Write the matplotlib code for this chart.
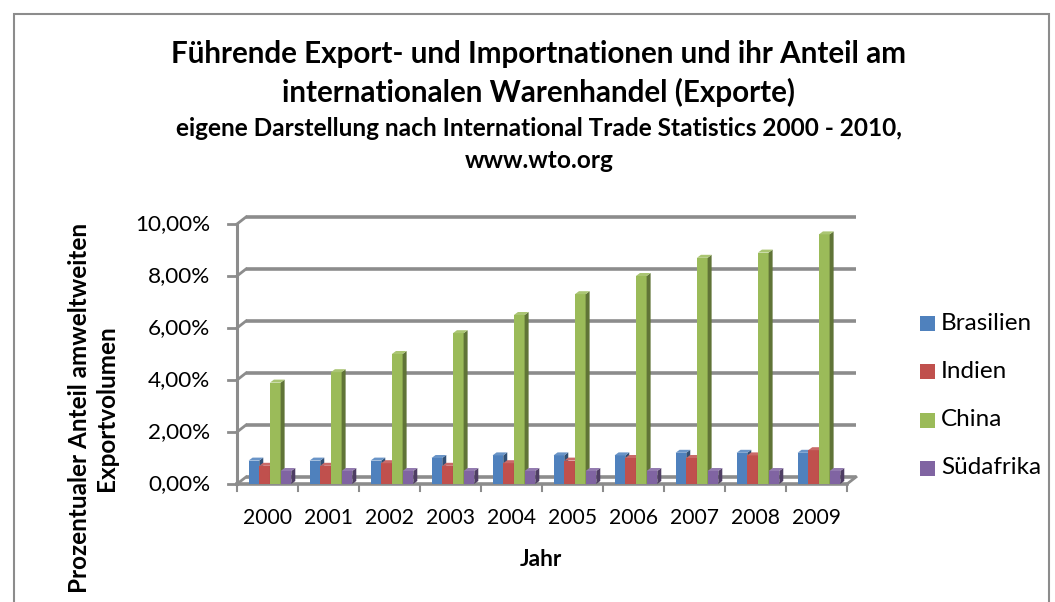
import matplotlib
matplotlib.use("Agg")
import matplotlib.pyplot as plt
from matplotlib.patches import Polygon, Rectangle
from matplotlib.colors import to_rgb

plt.rcParams['font.family'] = ['Lato', 'DejaVu Sans']

years = ['2000', '2001', '2002', '2003', '2004', '2005', '2006', '2007', '2008', '2009']
brasilien = [0.9, 0.9, 0.9, 1.0, 1.1, 1.1, 1.1, 1.2, 1.2, 1.2]
indien = [0.7, 0.7, 0.8, 0.7, 0.8, 0.9, 1.0, 1.0, 1.1, 1.3]
china = [3.9, 4.3, 5.0, 5.8, 6.5, 7.3, 8.0, 8.7, 8.9, 9.6]
suedafrika = [0.5, 0.5, 0.5, 0.5, 0.5, 0.5, 0.5, 0.5, 0.5, 0.5]
series_names = ['Brasilien', 'Indien', 'China', 'Südafrika']
series_values = [brasilien, indien, china, suedafrika]
colors = ['#4F81BD', '#C0504D', '#9BBB59', '#8064A2']
y_ticks = [0, 2, 4, 6, 8, 10]
y_tick_labels = ['0,00%', '2,00%', '4,00%', '6,00%', '8,00%', '10,00%']

W, H = 1055, 602
fig = plt.figure(figsize=(W / 100, H / 100), dpi=100)


def fx(px):
    return px / W


def fy(py):
    return 1 - py / H


# outer chart frame
fig.patches.append(Rectangle((fx(14), fy(640)), fx(1049) - fx(14), fy(14) - fy(640),
                             transform=fig.transFigure, fill=False,
                             edgecolor='#8c8c8c', linewidth=1.5))

# axes: front plane of the 3D plot
ax = fig.add_axes([fx(237), fy(484), fx(847) - fx(237), fy(224) - fy(484)])
ax.set_xlim(-0.5, 9.5)
ax.set_ylim(0, 10)
for s in ax.spines.values():
    s.set_visible(False)
ax.set_xticks([])
ax.set_yticks([])
ax.patch.set_alpha(0)

grid_col = '#8c8c8c'
wall_dx = 9 / 61.0       # depth offset of back wall (data units)
wall_dy = 7 / 26.0
x0, x1 = -0.5, 9.5

# back wall gridlines + side-wall diagonals
for v in y_ticks:
    ax.plot([x0 + wall_dx, x1 + wall_dx], [v + wall_dy, v + wall_dy],
            color=grid_col, lw=2.6, clip_on=False, zorder=1, solid_capstyle='butt')
    ax.plot([x0, x0 + wall_dx], [v, v + wall_dy], color=grid_col, lw=2.0,
            clip_on=False, zorder=1)
    ax.plot([x0 - 0.15, x0], [v, v], color=grid_col, lw=2.0, clip_on=False, zorder=1)

# vertical axis line
ax.plot([x0, x0], [0, 10], color=grid_col, lw=2.2, clip_on=False, zorder=1)
# floor front edge and right diagonal
ax.plot([x0, x1], [0, 0], color=grid_col, lw=2.6, clip_on=False, zorder=1)
ax.plot([x1, x1 + wall_dx], [0, wall_dy], color=grid_col, lw=2.0, clip_on=False, zorder=1)
# category ticks
for k in range(len(years) + 1):
    xb = x0 + k
    ax.plot([xb, xb], [0, -0.25], color=grid_col, lw=1.5, clip_on=False, zorder=1)

# 3D-looking columns
bw = 0.175
bdx = 4 / 61.0
bdy = 3 / 26.0


def shade(c, f):
    r, g, b = to_rgb(c)
    if f < 1:
        return (r * f, g * f, b * f)
    return (r + (1 - r) * (f - 1), g + (1 - g) * (f - 1), b + (1 - b) * (f - 1))


for i in range(len(years)):
    for j, (vals, col) in enumerate(zip(series_values, colors)):
        v = vals[i]
        xl = i + (j - 2) * bw + 0.04
        xr = xl + bw
        z = 3 + j
        # front face
        ax.add_patch(Rectangle((xl, 0), bw, v, facecolor=col, edgecolor='none',
                               zorder=z, clip_on=False))
        # side face
        ax.add_patch(Polygon([(xr, 0), (xr + bdx, bdy), (xr + bdx, v + bdy), (xr, v)],
                             closed=True, facecolor=shade(col, 0.62), edgecolor='none',
                             zorder=z, clip_on=False))
        # top face
        ax.add_patch(Polygon([(xl, v), (xl + bdx, v + bdy), (xr + bdx, v + bdy), (xr, v)],
                             closed=True, facecolor=shade(col, 1.15), edgecolor='none',
                             zorder=z, clip_on=False))

# tick labels
for v, lab in zip(y_ticks, y_tick_labels):
    ax.text(-0.94, v, lab, ha='right', va='center', fontsize=16.2, color='#000000',
            clip_on=False)
for i, lab in enumerate(years):
    ax.text(i, -1.31, lab, ha='center', va='center', fontsize=15.2, color='#000000',
            clip_on=False)

# titles
fig.text(fx(539), fy(54), 'Führende Export- und Importnationen und ihr Anteil am',
         ha='center', va='center', fontsize=21.3, fontweight='bold')
fig.text(fx(539), fy(92), 'internationalen Warenhandel (Exporte)',
         ha='center', va='center', fontsize=21.3, fontweight='bold')
fig.text(fx(539), fy(128), 'eigene Darstellung nach International Trade Statistics 2000 - 2010,',
         ha='center', va='center', fontsize=17.6, fontweight='bold')
fig.text(fx(539), fy(160), 'www.wto.org',
         ha='center', va='center', fontsize=17.6, fontweight='bold')

# axis titles
fig.text(fx(541), fy(560), 'Jahr', ha='center', va='center', fontsize=16.3, fontweight='bold')
fig.text(fx(93), fy(408), 'Prozentualer Anteil amweltweiten\nExportvolumen',
         ha='center', va='center', rotation=90, fontsize=17.5, fontweight='bold',
         multialignment='center', linespacing=1.2)

# legend
leg_rows = [323, 371, 420, 468]
for name, col, ry in zip(series_names, colors, leg_rows):
    fig.patches.append(Rectangle((fx(920), fy(ry + 7.5)), fx(935) - fx(920), fy(ry - 7.5) - fy(ry + 7.5),
                                 transform=fig.transFigure, facecolor=col, edgecolor='none'))
    fig.text(fx(941), fy(ry), name, ha='left', va='center', fontsize=17.5)

fig.savefig('out.png', dpi=100)
